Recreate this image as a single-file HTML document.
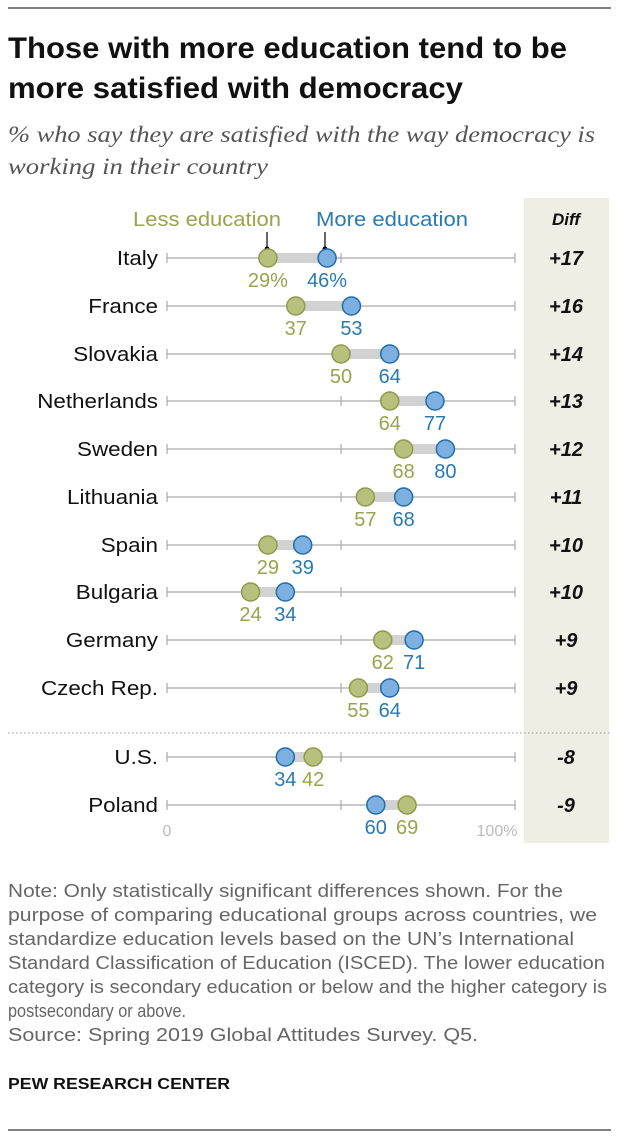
<!DOCTYPE html>
<html><head><meta charset="utf-8"><style>
body{margin:0;background:#fff;}
svg{display:block;font-family:"Liberation Sans",sans-serif;}
</style></head><body>
<svg id="c" width="634" height="1142" xmlns="http://www.w3.org/2000/svg">
<line x1="8" y1="8" x2="611" y2="8" stroke="#000" stroke-width="1"/>
<text x="8" y="58" font-size="30" font-weight="bold" fill="#111" textLength="559" lengthAdjust="spacingAndGlyphs">Those with more education tend to be</text>
<text x="8" y="98" font-size="30" font-weight="bold" fill="#111" textLength="455" lengthAdjust="spacingAndGlyphs">more satisfied with democracy</text>
<text x="8" y="142" font-size="23" font-style="italic" fill="#555" font-family="Liberation Serif, serif" textLength="587" lengthAdjust="spacingAndGlyphs">% who say they are satisfied with the way democracy is</text>
<text x="8" y="174" font-size="23" font-style="italic" fill="#555" font-family="Liberation Serif, serif" textLength="260" lengthAdjust="spacingAndGlyphs">working in their country</text>
<rect x="524" y="198" width="85" height="645" fill="#efeee4"/>
<text x="566" y="225" font-size="17" font-weight="bold" font-style="italic" text-anchor="middle" fill="#111">Diff</text>
<text x="133" y="226" font-size="20" fill="#9aa34d" textLength="148" lengthAdjust="spacingAndGlyphs">Less education</text>
<text x="316" y="226" font-size="20" fill="#2a7ab0" textLength="152" lengthAdjust="spacingAndGlyphs">More education</text>
<line x1="267" y1="232" x2="267" y2="249" stroke="#000" stroke-width="1.2"/>
<circle cx="267" cy="249" r="2.5" fill="#000"/>
<line x1="325" y1="232" x2="325" y2="249" stroke="#000" stroke-width="1.2"/>
<circle cx="325" cy="249" r="2.5" fill="#000"/>
<line x1="8" y1="733" x2="611" y2="733" stroke="#999" stroke-width="1" stroke-dasharray="1.5,2.5"/>
<text x="167" y="836" font-size="16" text-anchor="middle" fill="#bbb">0</text>
<text x="497" y="836" font-size="16" text-anchor="middle" fill="#bbb">100%</text>
<g id="rows"></g>
<g font-size="18" fill="#666">
<text x="8" y="897" textLength="555" lengthAdjust="spacingAndGlyphs">Note: Only statistically significant differences shown. For the</text>
<text x="8" y="921" textLength="589" lengthAdjust="spacingAndGlyphs">purpose of comparing educational groups across countries, we</text>
<text x="8" y="945" textLength="566" lengthAdjust="spacingAndGlyphs">standardize education levels based on the UN’s International</text>
<text x="8" y="969" textLength="597" lengthAdjust="spacingAndGlyphs">Standard Classification of Education (ISCED). The lower education</text>
<text x="8" y="993" textLength="599" lengthAdjust="spacingAndGlyphs">category is secondary education or below and the higher category is</text>
<text x="8" y="1017" textLength="178" lengthAdjust="spacingAndGlyphs">postsecondary or above.</text>
<text x="8" y="1041" textLength="470" lengthAdjust="spacingAndGlyphs">Source: Spring 2019 Global Attitudes Survey. Q5.</text>
</g>
<text x="8" y="1089" font-size="16" font-weight="bold" fill="#111" textLength="222" lengthAdjust="spacingAndGlyphs">PEW RESEARCH CENTER</text>
<line x1="8" y1="1130" x2="611" y2="1130" stroke="#000" stroke-width="1"/>
</svg>
<script>
const countries=["Italy","France","Slovakia","Netherlands","Sweden","Lithuania","Spain","Bulgaria","Germany","Czech Rep.","U.S.","Poland"];
const lessEdu=[29,37,50,64,68,57,29,24,62,55,42,69];
const moreEdu=[46,53,64,77,80,68,39,34,71,64,34,60];
const diffs=["+17","+16","+14","+13","+12","+11","+10","+10","+9","+9","-8","-9"];
const rowY=[258,306,354,401,449,497,545,592,640,688,757,805];
const x=v=>167+v*3.48;
const NS="http://www.w3.org/2000/svg";
const g=document.getElementById('rows');
function mk(t,a,txt){const e=document.createElementNS(NS,t);for(const k in a)e.setAttribute(k,a[k]);if(txt!=null)e.textContent=txt;g.appendChild(e);return e;}
function widen(e,f){const w=e.getComputedTextLength();e.setAttribute('textLength',w*f);e.setAttribute('lengthAdjust','spacingAndGlyphs');}
countries.forEach((c,i)=>{
 const y=rowY[i];
 const lab=mk('text',{x:158,y:y+7,'font-size':20,'text-anchor':'end',fill:'#111'},c);
 
 
 widen(lab,1.12);
 const ax=mk('line',{x1:x(0),y1:y,x2:x(100),y2:y,stroke:'#aaa','stroke-width':1.2});
 
 
 [0,50,100].forEach(t=>mk('line',{x1:x(t),y1:y-5,x2:x(t),y2:y+5,stroke:'#aaa','stroke-width':1.2}));
 const a=lessEdu[i],b=moreEdu[i];
 const bar=mk('rect',{x:x(Math.min(a,b)),y:y-5,width:Math.abs(x(b)-x(a)),height:10,fill:'#d2d2d2'});
 
 
 const pct=i===0?'%':'';
 const c1=mk('circle',{cx:x(a),cy:y,r:9,fill:'#b8c07e',stroke:'#8f9a4b','stroke-width':1.5});
 
 
 const c2=mk('circle',{cx:x(b),cy:y,r:9,fill:'#7db0e0',stroke:'#1f6ea8','stroke-width':1.5});
 
 
 const l1=mk('text',{x:x(a),y:y+29,'font-size':20,'text-anchor':'middle',fill:'#9aa34d'},a+pct);
 
 
 const l2=mk('text',{x:x(b),y:y+29,'font-size':20,'text-anchor':'middle',fill:'#2a7ab0'},b+pct);
 
 
 const d=mk('text',{x:566,y:y+7,'font-size':20,'font-weight':'bold','font-style':'italic','text-anchor':'middle',fill:'#111'},diffs[i]);
 
 
});
</script>
</body></html>
